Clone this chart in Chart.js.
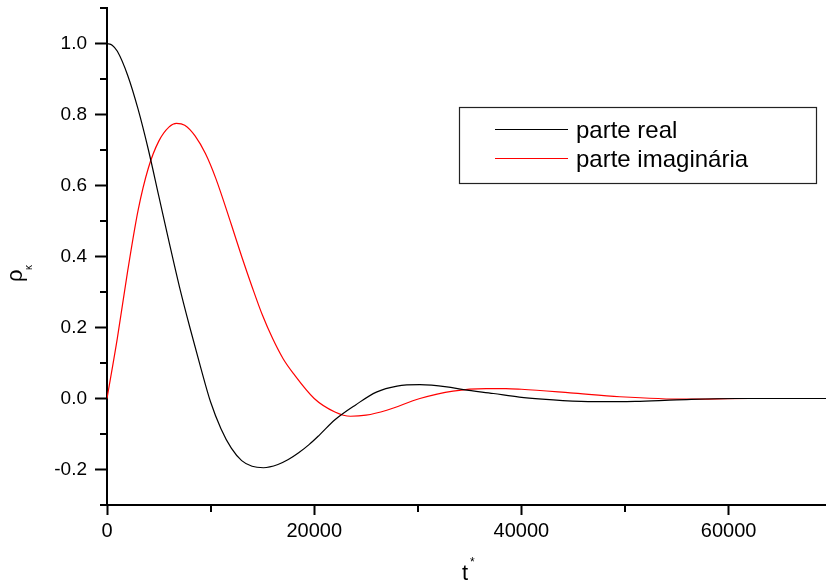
<!DOCTYPE html>
<html>
<head>
<meta charset="utf-8">
<script src="https://cdn.jsdelivr.net/npm/chart.js@4.4.0/dist/chart.umd.min.js"></script>
<style>
  html, body { margin: 0; padding: 0; background: #fff; }
  #wrap { width: 826px; height: 582px; position: relative; }
</style>
</head>
<body>
<div id="wrap"><canvas id="c"></canvas></div>
<script>
const FONT = "'Liberation Sans', Arial, sans-serif";

// ── dados ─────────────────────────────────────────────────────────────
const T_REAL = [0, 500, 1000, 2000, 3000, 4000, 5000, 6000, 7000, 8000, 9000, 10000, 11000, 12000, 13000,
  14000, 15100, 16500, 17500, 18500, 19500, 20500, 22000, 24000, 26000, 28000, 30200, 32800, 34400, 37300,
  39800, 42000, 44000, 47000, 51000, 55000, 60700, 69400];
const REAL = [1.0, 0.995, 0.978, 0.91, 0.815, 0.70, 0.57, 0.44, 0.314, 0.20, 0.092, -0.01, -0.085, -0.14, -0.175,
  -0.191, -0.195, -0.186, -0.172, -0.153, -0.13, -0.103, -0.06, -0.018, 0.018, 0.035, 0.039, 0.033, 0.025, 0.014,
  0.004, -0.002, -0.006, -0.009, -0.008, -0.004, 0.0, 0.0];

const T_IMAG = [0, 1000, 2000, 3000, 4000, 5000, 6000, 6700, 7500, 8500, 9500, 10500, 12000, 13000, 14000,
  15000, 16000, 17000, 18000, 20000, 22000, 23500, 25000, 27000, 30200, 33400, 36600, 38500, 40000, 44700,
  49500, 56000, 62000, 69400];
const IMAG = [0, 0.17, 0.36, 0.53, 0.65, 0.725, 0.765, 0.775, 0.77, 0.74, 0.69, 0.62, 0.49, 0.40, 0.315,
  0.235, 0.168, 0.112, 0.07, 0.0, -0.038, -0.05, -0.047, -0.033, 0.0, 0.021, 0.028, 0.028, 0.026, 0.016,
  0.005, -0.002, 0.0, 0.0];

const LABELS = ['parte real', 'parte imaginária'];
const X_TICKS = [0, 20000, 40000, 60000];
const X_MINOR = [10000, 30000, 50000];
const Y_TICKS = [-0.2, 0.0, 0.2, 0.4, 0.6, 0.8, 1.0];
const Y_MINOR = [-0.3, -0.1, 0.1, 0.3, 0.5, 0.7, 0.9, 1.1];

const pts = (xs, ys) => xs.map((x, i) => ({ x, y: ys[i] }));

// ── ticks menores, títulos dos eixos e legenda em caixa ───────────────
const extras = {
  id: 'extras',
  afterDraw(chart) {
    const { ctx, chartArea: a, scales: { x, y } } = chart;
    ctx.save();
    ctx.strokeStyle = '#000';
    ctx.lineWidth = 2;
    ctx.beginPath();
    Y_MINOR.forEach(v => {
      const py = Math.round(y.getPixelForValue(v));
      ctx.moveTo(a.left - 7, py); ctx.lineTo(a.left, py);
    });
    X_MINOR.forEach(v => {
      const px = Math.round(x.getPixelForValue(v));
      ctx.moveTo(px, a.bottom); ctx.lineTo(px, a.bottom + 7);
    });
    ctx.stroke();

    // título do eixo y: rho com subscrito kappa
    ctx.fillStyle = '#000';
    ctx.save();
    ctx.translate(20, 283);
    ctx.rotate(-Math.PI / 2);
    ctx.textBaseline = 'alphabetic';
    ctx.textAlign = 'left';
    ctx.font = `22px ${FONT}`;
    ctx.fillText('ρ', 1, 2);
    ctx.font = `10px ${FONT}`;
    ctx.fillText('κ', 13, 12);
    ctx.restore();

    // título do eixo x: t*
    ctx.textAlign = 'left';
    ctx.textBaseline = 'alphabetic';
    ctx.font = `22px ${FONT}`;
    ctx.fillText('t', 462, 580);
    ctx.font = `12px ${FONT}`;
    ctx.fillText('*', 470, 566);

    // legenda
    ctx.strokeStyle = '#222';
    ctx.lineWidth = 1.2;
    ctx.strokeRect(459.5, 107.5, 357, 76);
    const rows = [129, 158];
    chart.data.datasets.forEach((ds, i) => {
      ctx.strokeStyle = ds.borderColor;
      ctx.lineWidth = 1.2;
      ctx.beginPath();
      ctx.moveTo(495, rows[i] + 0.5);
      ctx.lineTo(568, rows[i] + 0.5);
      ctx.stroke();
      ctx.fillStyle = '#000';
      ctx.font = `24px ${FONT}`;
      ctx.textBaseline = 'middle';
      ctx.fillText(ds.label, 576, rows[i] + 2);
    });
    ctx.restore();
  },
};

const axisBase = {
  type: 'linear',
  border: { color: '#000', width: 2 },
};

new Chart(document.getElementById('c'), {
  type: 'line',
  data: {
    datasets: [
      {
        label: LABELS[0],
        data: pts(T_REAL, REAL),
        borderColor: '#000000',
        borderWidth: 1.2,
        pointRadius: 0,
        cubicInterpolationMode: 'monotone',
      },
      {
        label: LABELS[1],
        data: pts(T_IMAG, IMAG),
        borderColor: '#ff0000',
        borderWidth: 1.2,
        pointRadius: 0,
        cubicInterpolationMode: 'monotone',
      },
    ],
  },
  options: {
    responsive: true,
    maintainAspectRatio: false,
    animation: false,
    layout: { padding: { top: 8, left: 0, right: 0, bottom: 0 } },
    plugins: { legend: { display: false }, tooltip: { enabled: false } },
    scales: {
      x: {
        ...axisBase,
        min: 0,
        max: 69400,
        afterBuildTicks: s => { s.ticks = X_TICKS.map(value => ({ value })); },
        afterFit: s => { s.height = 77; s.paddingLeft = 0; s.paddingRight = 0; },
        ticks: {
          color: '#000',
          font: { family: FONT, size: 20 },
          padding: 4,
          maxRotation: 0,
          autoSkip: false,
          callback: v => String(v),
        },
        grid: { drawOnChartArea: false, tickLength: 10, tickColor: '#000', tickWidth: 2 },
      },
      y: {
        ...axisBase,
        min: -0.3,
        max: 1.1,
        afterBuildTicks: s => { s.ticks = Y_TICKS.map(value => ({ value })); },
        afterFit: s => { s.width = 107; s.paddingTop = 0; s.paddingBottom = 0; },
        ticks: {
          color: '#000',
          font: { family: FONT, size: 19 },
          padding: 8,
          autoSkip: false,
          callback: v => v.toFixed(1),
        },
        grid: { drawOnChartArea: false, tickLength: 12, tickColor: '#000', tickWidth: 2 },
      },
    },
  },
  plugins: [extras],
});
</script>
</body>
</html>
